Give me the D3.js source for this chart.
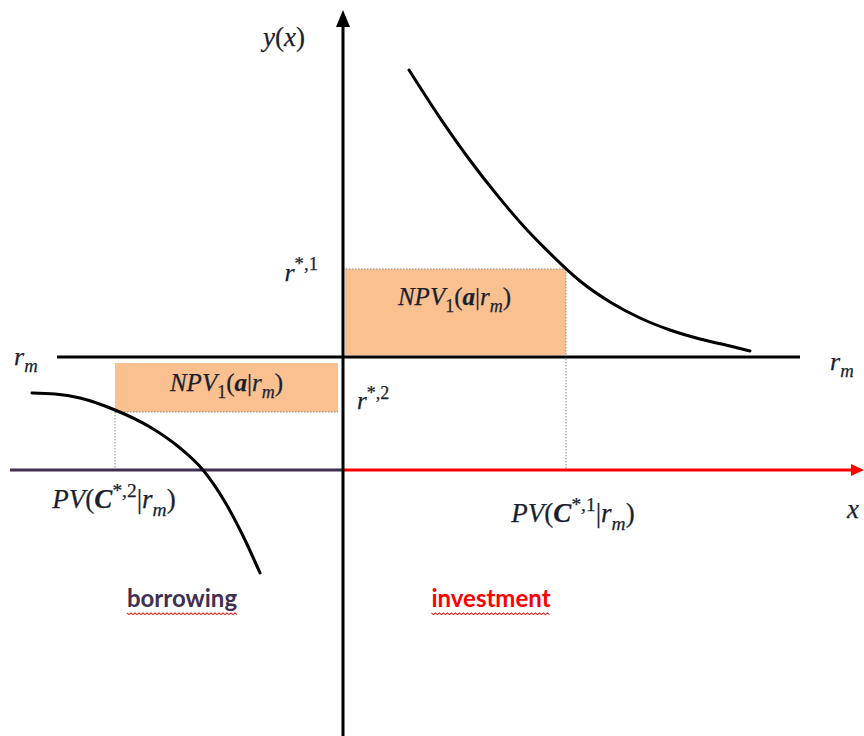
<!DOCTYPE html>
<html><head><meta charset="utf-8">
<script src="https://cdn.jsdelivr.net/npm/d3@7"></script>
<style>body{margin:0;background:#fff}svg{display:block}</style>
</head><body>
<svg id="c" width="864" height="736"></svg>
<script>
// ---- data (abstract units; origin = intersection of the two axes) ----
const investmentCurveX = [3.3, 4.8, 6.3, 7.8, 9.3, 10.15, 11.85, 13.35, 14.85, 16.35, 17.85, 19.35, 20.35];
const investmentCurveY = [20, 17.68, 15.55, 13.63, 11.9, 11.03, 9.45, 8.4, 7.6, 7.0, 6.55, 6.2, 5.95];
const borrowingCurveX = [-15.55, -14.4, -13.15, -11.4, -9.65, -8.15, -7.0, -5.9, -4.9, -4.15];
const borrowingCurveY = [3.85, 3.8, 3.6, 3.0, 2.15, 1.1, 0, -1.6, -3.5, -5.15];
const marketRate = 5.65;      // r_m
const rStar1 = 10.05;         // r^{*,1}
const rStar2 = 2.9;           // r^{*,2}
const pv1 = 11.15;            // PV(C^{*,1}|r_m)
const pv2 = -11.4;            // PV(C^{*,2}|r_m)
const xAxisExtent = [-16.65, 26.05];
const rmLineExtent = [-14.3, 22.85];
const yAxisExtent = [-13.3, 23.0];
const xDomain = [-17.15, 26.05];
const yDomain = [-13.3, 23.5];

// label texts (segments: style i=italic, n=normal, bi=bold italic; p=sub/sup)
const npvLabel = [{t:"NPV",s:"i"},{t:"1",s:"n",p:"sub"},{t:"(",s:"n"},{t:"a",s:"bi"},{t:"|",s:"n"},{t:"r",s:"i"},{t:"m",s:"i",p:"sub"},{t:")",s:"n"}];
const pv1Label = [{t:"PV",s:"i"},{t:"(",s:"n"},{t:"C",s:"bi"},{t:"*,1",s:"n",p:"sup"},{t:"|",s:"n"},{t:"r",s:"i"},{t:"m",s:"i",p:"sub"},{t:")",s:"n"}];
const pv2Label = [{t:"PV",s:"i"},{t:"(",s:"n"},{t:"C",s:"bi"},{t:"*,2",s:"n",p:"sup"},{t:"|",s:"n"},{t:"r",s:"i"},{t:"m",s:"i",p:"sub"},{t:")",s:"n"}];
const rStar1Label = [{t:"r",s:"i"},{t:"*,1",s:"n",p:"sup"}];
const rStar2Label = [{t:"r",s:"i"},{t:"*,2",s:"n",p:"sup"}];
const rmLabel = [{t:"r",s:"i"},{t:"m",s:"i",p:"sub"}];
const yLabel = [{t:"y",s:"i"},{t:"(",s:"n"},{t:"x",s:"i"},{t:")",s:"n"}];
const xLabel = [{t:"x",s:"i"}];
const regionLabels = ["borrowing", "investment"];

// ---- drawing ----
const svg = d3.select("#c");
const W = 864, H = 736;
const x = d3.scaleLinear().domain(xDomain).range([0, W]);
const y = d3.scaleLinear().domain(yDomain).range([H, 0]);

const ORANGE = "#FAC090", PURPLE = "#403152", RED = "#FF0000", INK = "#1a1f30";
const mathFont = "'Liberation Serif', 'DejaVu Serif', serif";

// boxes
svg.append("rect")
  .attr("x", x(0) + 2).attr("y", y(rStar1))
  .attr("width", x(pv1) - x(0) - 2).attr("height", y(marketRate) - y(rStar1) - 2)
  .attr("fill", ORANGE);
svg.append("rect")
  .attr("x", x(pv2)).attr("y", y(marketRate) + 6)
  .attr("width", x(0) - 5 - x(pv2)).attr("height", y(rStar2) - y(marketRate) - 6)
  .attr("fill", ORANGE);

// dotted guide lines
function dline(x1, y1, x2, y2) {
  svg.append("line").attr("x1", x1).attr("y1", y1).attr("x2", x2).attr("y2", y2)
    .attr("stroke", "#8a8a8a").attr("stroke-width", 1).attr("stroke-dasharray", "1.5,1.5");
}
dline(x(0), y(rStar1), x(pv1), y(rStar1));
dline(x(pv1), y(rStar1), x(pv1), y(0));
dline(x(pv2), y(rStar2), x(0) - 5, y(rStar2));
dline(x(pv2), y(rStar2), x(pv2), y(0));

// r_m line
svg.append("line")
  .attr("x1", x(rmLineExtent[0])).attr("x2", x(rmLineExtent[1]))
  .attr("y1", y(marketRate)).attr("y2", y(marketRate))
  .attr("stroke", "#000").attr("stroke-width", 3);

// x axis: purple on the left, red on the right with arrow
svg.append("line")
  .attr("x1", x(xAxisExtent[0])).attr("x2", x(0))
  .attr("y1", y(0)).attr("y2", y(0))
  .attr("stroke", PURPLE).attr("stroke-width", 3);
svg.append("line")
  .attr("x1", x(0)).attr("x2", x(xAxisExtent[1]) - 10)
  .attr("y1", y(0)).attr("y2", y(0))
  .attr("stroke", RED).attr("stroke-width", 3);
{
  const tx = x(xAxisExtent[1]), ty = y(0);
  svg.append("path").attr("d", `M${tx},${ty} L${tx - 13},${ty - 6} L${tx - 13},${ty + 6} Z`).attr("fill", RED);
}

// y axis with arrow
svg.append("line")
  .attr("x1", x(0)).attr("x2", x(0))
  .attr("y1", y(yAxisExtent[1]) + 10).attr("y2", y(yAxisExtent[0]))
  .attr("stroke", "#000").attr("stroke-width", 3);
{
  const tx = x(0), ty = y(yAxisExtent[1]);
  svg.append("path").attr("d", `M${tx},${ty} L${tx - 7},${ty + 17} L${tx + 7},${ty + 17} Z`).attr("fill", "#000");
}

// curves
const line = d3.line().x(d => x(d[0])).y(d => y(d[1])).curve(d3.curveMonotoneX);
svg.append("path").attr("d", line(d3.zip(investmentCurveX, investmentCurveY)))
  .attr("fill", "none").attr("stroke", "#000").attr("stroke-width", 3).attr("stroke-linecap", "round");
svg.append("path").attr("d", line(d3.zip(borrowingCurveX, borrowingCurveY)))
  .attr("fill", "none").attr("stroke", "#000").attr("stroke-width", 3).attr("stroke-linecap", "round");

// math text helper
function mathText(px, py, segs, size, anchor) {
  const t = svg.append("text").attr("x", px).attr("y", py)
    .attr("font-family", mathFont).attr("font-size", size)
    .attr("text-anchor", anchor || "start").attr("fill", INK)
    .attr("stroke", INK).attr("stroke-width", 0.25);
  let cur = 0;
  segs.forEach(s => {
    const off = s.p === "sub" ? size * 0.28 : s.p === "sup" ? -size * 0.42 : 0;
    t.append("tspan")
      .attr("dy", off - cur)
      .attr("font-size", s.p ? size * 0.72 : size)
      .attr("font-style", s.s.includes("i") ? "italic" : "normal")
      .attr("font-weight", s.s.includes("b") ? "bold" : "normal")
      .text(s.t);
    cur = off;
  });
  return t;
}

mathText(x(0) - 38, y(yAxisExtent[1]) + 36, yLabel, 27, "end");
mathText(x(0) - 25, y(rStar1) + 12, rStar1Label, 26, "end");
mathText(x(0) + 14, y(rStar2) - 3, rStar2Label, 25, "start");
mathText(x(rmLineExtent[0]) - 43, y(marketRate) + 8, rmLabel, 26, "start");
mathText(x(rmLineExtent[1]) + 30, y(marketRate) + 13, rmLabel, 26, "start");
mathText((x(0) + x(pv1)) / 2, (y(rStar1) + y(marketRate)) / 2 - 8, npvLabel, 25, "middle");
mathText((x(pv2) + x(0) - 5) / 2, (y(marketRate) + y(rStar2)) / 2 + 6, npvLabel, 25, "middle");
mathText(x(pv2) - 1, y(0) + 38, pv2Label, 27, "middle");
mathText(x(pv1) + 7, y(0) + 52, pv1Label, 27, "middle");
mathText(x(xAxisExtent[1]) - 11, y(0) + 48, xLabel, 27, "middle");

// region labels with spell-check squiggle
function regionLabel(cx, py, txt, color) {
  const t = svg.append("text").attr("x", cx).attr("y", py)
    .attr("font-family", "Lato, 'Open Sans', sans-serif").attr("font-weight", "bold")
    .attr("font-size", 24).attr("text-anchor", "middle").attr("fill", color).text(txt);
  const b = t.node().getBBox();
  const pts = [];
  for (let px = b.x, i = 0; px <= b.x + b.width; px += 2, i++) pts.push([px, py + 6 + (i % 2 ? 1.6 : 0)]);
  svg.append("path").attr("d", d3.line()(pts)).attr("fill", "none").attr("stroke", "#e03030").attr("stroke-width", 1.1);
}
regionLabel(x(pv2) + 67, y(0) + 137, regionLabels[0], PURPLE);
regionLabel(x(pv1) - 75, y(0) + 137, regionLabels[1], RED);
</script>
</body></html>
